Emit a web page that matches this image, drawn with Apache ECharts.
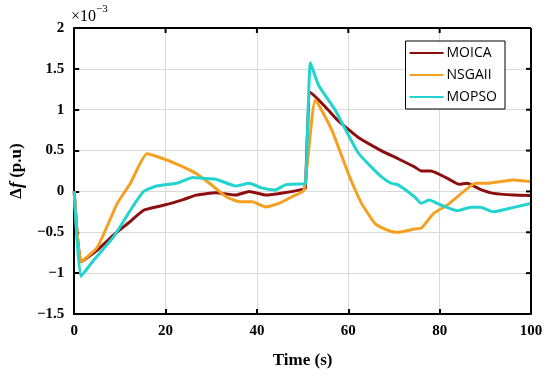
<!DOCTYPE html>
<html><head><meta charset="utf-8">
<script src="https://cdn.jsdelivr.net/npm/echarts@6/dist/echarts.min.js"></script>
<style>html,body{margin:0;padding:0;background:#fff}#c{width:550px;height:381px}</style>
</head><body><div id="c"></div>
<script>
// values in units of 1e-3 p.u.
var seriesNames = ['MOICA', 'NSGAII', 'MOPSO'];
var moicaT = [0, 1.5, 5, 8.7, 12, 15.2, 19.5, 23.9, 26.7, 31, 35.4, 38.3, 42, 45.6, 50, 50.6, 51.7, 54.9, 57.5, 60, 62.2, 67.2, 70.9, 74.5, 76, 78.1, 81.7, 84.3, 86, 88.9, 91.8, 96.2, 100];
var moicaV = [0, -0.86, -0.72, -0.53, -0.38, -0.23, -0.17, -0.1, -0.045, -0.015, -0.045, 0, -0.045, -0.02, 0.025, 0.04, 1.21, 1.04, 0.88, 0.76, 0.66, 0.5, 0.4, 0.3, 0.25, 0.25, 0.16, 0.087, 0.1, 0.026, -0.024, -0.044, -0.05];
var nsgaT = [0, 1.5, 5.1, 9.4, 12.3, 15.9, 19.5, 23.1, 26.7, 29.6, 33.3, 36.2, 39, 41.9, 44.8, 47.7, 50.3, 52.8, 56.4, 60, 62.9, 65.8, 67.2, 69.4, 70.9, 74.5, 76, 78.7, 81.7, 85.3, 87.8, 90.4, 93.3, 96.2, 100];
var nsgaV = [0, -0.86, -0.68, -0.15, 0.1, 0.46, 0.4, 0.32, 0.22, 0.1, -0.065, -0.126, -0.126, -0.19, -0.146, -0.065, 0.017, 1.12, 0.75, 0.22, -0.146, -0.39, -0.44, -0.49, -0.5, -0.46, -0.45, -0.27, -0.166, 0, 0.1, 0.1, 0.12, 0.14, 0.12];
var mopsoT = [0, 1.45, 4.3, 8.7, 12.3, 15.2, 18.1, 22.4, 26, 28.2, 31, 35.4, 38.3, 41.2, 44, 46.2, 49.5, 50.6, 51.7, 53.5, 57.1, 62.2, 67.2, 69.4, 70.9, 74.5, 76, 77.7, 80.3, 83.9, 86.8, 88.9, 91.8, 96.2, 100];
var mopsoV = [0, -1.04, -0.84, -0.55, -0.23, 0, 0.066, 0.1, 0.17, 0.16, 0.15, 0.066, 0.1, 0.04, 0.017, 0.08, 0.09, 0.09, 1.575, 1.3, 1.0, 0.47, 0.18, 0.1, 0.08, -0.065, -0.146, -0.105, -0.166, -0.236, -0.195, -0.195, -0.248, -0.195, -0.146];
var xTicks = [0, 20, 40, 60, 80, 100];
var yTicks = [-1.5, -1, -0.5, 0, 0.5, 1, 1.5, 2];
var colors = ['#8b0f0f', '#f5a020', '#22d3cf'];

var X_MIN = 0, X_MAX = 100, Y_MIN = -1.5, Y_MAX = 2;
function pairs(t, v) { return t.map(function (x, i) { return [x, v[i]]; }); }
var serif = 'Liberation Serif, Times New Roman, serif';
var labStyle = { color: '#000', fontFamily: serif, fontWeight: 'bold', fontSize: 15 };
var minusFmt = function (v) { return String(v).replace('-', '\u2212'); };
var frameLine = { show: true, onZero: false, lineStyle: { color: '#000', width: 2 } };
var frameTick = { show: true, inside: true, length: 5, lineStyle: { color: '#000', width: 2 } };

var chart = echarts.init(document.getElementById('c'));
chart.setOption({
  animation: false,
  backgroundColor: '#fff',
  grid: { left: 70, right: 19, top: 28, bottom: 67, show: false },
  legend: {
    data: seriesNames, orient: 'vertical', right: 45, top: 41,
    backgroundColor: '#fff', borderColor: '#000', borderWidth: 1, borderRadius: 0,
    padding: [5, 8, 5, 4], itemGap: 8, itemWidth: 34, itemHeight: 14,
    textStyle: { fontFamily: 'Open Sans, Noto Sans, sans-serif', fontSize: 14, color: '#000', padding: [0, 0, 0, -2] },
    icon: 'path://M0,6 L34,6 L34,8 L0,8 Z'
  },
  xAxis: {
    type: 'value', min: X_MIN, max: X_MAX, interval: 20,
    name: 'Time (s)', nameLocation: 'middle', nameGap: 38,
    nameTextStyle: { color: '#000', fontFamily: serif, fontWeight: 'bold', fontSize: 17 },
    axisLine: frameLine, axisTick: frameTick,
    axisLabel: Object.assign({ margin: 10 }, labStyle),
    splitLine: { show: true, lineStyle: { color: '#d9d9d9', width: 1 } }
  },
  yAxis: {
    type: 'value', min: Y_MIN, max: Y_MAX, interval: 0.5,
    name: '{d|\u0394}{f|f} {p|(p.u)}', nameLocation: 'middle', nameGap: 42, nameRotate: 90,
    nameTextStyle: {
      color: '#000', fontFamily: serif, fontWeight: 'bold', fontSize: 17,
      rich: {
        d: { fontFamily: serif, fontSize: 17, color: '#000' },
        f: { fontFamily: serif, fontSize: 18, fontStyle: 'italic', fontWeight: 'bold', color: '#000' },
        p: { fontFamily: serif, fontSize: 17, fontWeight: 'bold', color: '#000' }
      }
    },
    axisLine: frameLine, axisTick: frameTick,
    axisLabel: Object.assign({ margin: 10, formatter: minusFmt }, labStyle),
    splitLine: { show: true, lineStyle: { color: '#d9d9d9', width: 1 } }
  },
  series: [
    { name: seriesNames[0], type: 'line', data: pairs(moicaT, moicaV), showSymbol: false, smooth: 0.15, lineStyle: { width: 3, color: colors[0] }, itemStyle: { color: colors[0] } },
    { name: seriesNames[1], type: 'line', data: pairs(nsgaT, nsgaV), showSymbol: false, smooth: 0.15, lineStyle: { width: 3, color: colors[1] }, itemStyle: { color: colors[1] } },
    { name: seriesNames[2], type: 'line', data: pairs(mopsoT, mopsoV), showSymbol: false, smooth: 0.15, lineStyle: { width: 3, color: colors[2] }, itemStyle: { color: colors[2] } }
  ]
});

// top and right frame edges with inward ticks, positioned through the chart's own scales
var p0 = chart.convertToPixel({ gridIndex: 0 }, [X_MIN, Y_MIN]);
var p1 = chart.convertToPixel({ gridIndex: 0 }, [X_MAX, Y_MAX]);
var els = [
  { type: 'line', z: 100, shape: { x1: p0[0], y1: p1[1], x2: p1[0], y2: p1[1] }, style: { stroke: '#000', lineWidth: 2 } },
  { type: 'line', z: 100, shape: { x1: p1[0], y1: p0[1], x2: p1[0], y2: p1[1] }, style: { stroke: '#000', lineWidth: 2 } }
];
xTicks.forEach(function (t) {
  if (t > X_MIN && t < X_MAX) {
    var px = chart.convertToPixel({ gridIndex: 0 }, [t, Y_MAX]);
    els.push({ type: 'line', z: 100, shape: { x1: px[0], y1: px[1], x2: px[0], y2: px[1] + 5 }, style: { stroke: '#000', lineWidth: 2 } });
  }
});
yTicks.forEach(function (v) {
  if (v > Y_MIN && v < Y_MAX) {
    var px = chart.convertToPixel({ gridIndex: 0 }, [X_MAX, v]);
    els.push({ type: 'line', z: 100, shape: { x1: px[0], y1: px[1], x2: px[0] - 5, y2: px[1] }, style: { stroke: '#000', lineWidth: 2 } });
  }
});
els.push({
  type: 'text', left: 71, top: 4,
  style: {
    text: '{a|\u00d710}{b|\u22123}',
    rich: {
      a: { fontFamily: serif, fontSize: 16, fill: '#000', verticalAlign: 'bottom' },
      b: { fontFamily: serif, fontSize: 11, fill: '#000', verticalAlign: 'top', padding: [0, 0, 10, 0] }
    }
  }
});
chart.setOption({ graphic: els });
</script></body></html>
